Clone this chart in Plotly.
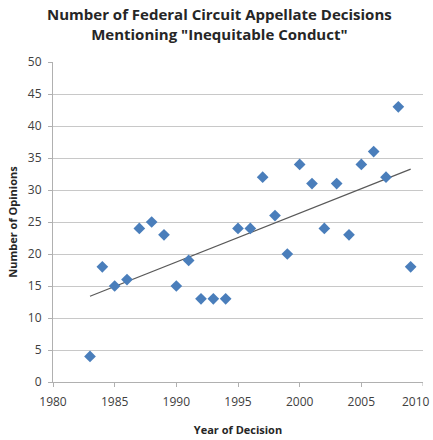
import numpy as np
import plotly.graph_objects as go

years = [1983, 1984, 1985, 1986, 1987, 1988, 1989, 1990, 1991, 1992, 1993, 1994, 1995,
         1996, 1997, 1998, 1999, 2000, 2001, 2002, 2003, 2004, 2005, 2006, 2007, 2008, 2009]
opinions = [4, 18, 15, 16, 24, 25, 23, 15, 19, 13, 13, 13, 24,
            24, 32, 26, 20, 34, 31, 24, 31, 23, 34, 36, 32, 43, 18]
x_ticks = [1980, 1985, 1990, 1995, 2000, 2005, 2010]

slope, intercept = np.polyfit(years, opinions, 1)
trend_x = [min(years), max(years)]
trend_y = [slope * x + intercept for x in trend_x]

fig = go.Figure()
fig.add_trace(go.Scatter(x=trend_x, y=trend_y, mode="lines",
                         line=dict(color="#595959", width=1.2), hoverinfo="skip"))
fig.add_trace(go.Scatter(x=years, y=opinions, mode="markers",
                         marker=dict(symbol="diamond", size=9, color="#4a7ebb")))

fig.update_layout(
    width=433, height=440,
    margin=dict(l=53, r=10, t=62, b=58),
    paper_bgcolor="white", plot_bgcolor="white",
    showlegend=False,
    font=dict(family="Open Sans, DejaVu Sans", size=12, color="#404040"),
    xaxis=dict(range=[1980, 2010], tickmode="array", tickvals=x_ticks[:-1], automargin=False,
               showgrid=False, showline=True, linecolor="#b0b0b0", linewidth=1,
               ticks="outside", ticklen=4, tickcolor="#b0b0b0", ticklabelstandoff=5,
               zeroline=False,
               title=dict(text="<b>Year of Decision</b>", font=dict(size=11, color="#262626"), standoff=16)),
    yaxis=dict(range=[0, 50], tickmode="linear", tick0=0, dtick=5, automargin=False,
               showgrid=True, gridcolor="#c8c8c8", gridwidth=1,
               showline=True, linecolor="#b0b0b0", linewidth=1,
               ticks="outside", ticklen=4, tickcolor="#b0b0b0", ticklabelstandoff=4,
               zeroline=False,
               title=dict(text="<b>Number of Opinions</b>", font=dict(size=11, color="#262626"), standoff=8)),
)
fig.add_annotation(text="<b>Number of Federal Circuit Appellate Decisions<br>Mentioning \"Inequitable Conduct\"</b>",
                   xref="paper", yref="paper", x=0.449, y=1.0, yshift=60, xanchor="center", yanchor="top",
                   showarrow=False, font=dict(size=15, color="#262626"))
fig.add_annotation(text=str(x_ticks[-1]), xref="x", yref="paper", x=x_ticks[-1], y=0, yshift=-9,
                   xanchor="right", xshift=9, yanchor="top", showarrow=False,
                   font=dict(size=12, color="#404040"))
fig.add_shape(type="line", xref="x", yref="paper", ysizemode="pixel", yanchor=0,
              x0=x_ticks[-1], x1=x_ticks[-1], y0=0, y1=-4,
              line=dict(color="#b0b0b0", width=1))

fig.write_html("out.html")
